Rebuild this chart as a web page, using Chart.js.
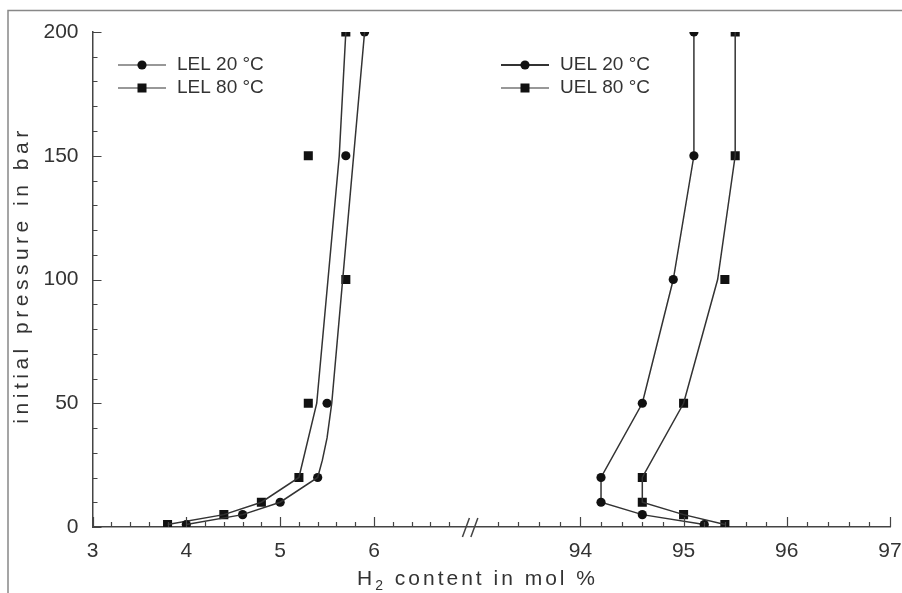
<!DOCTYPE html>
<html>
<head>
<meta charset="utf-8">
<title>Explosion limits of hydrogen</title>
<script src="https://cdn.jsdelivr.net/npm/chart.js@4.4.1/dist/chart.umd.min.js"></script>
<style>
  html, body { margin: 0; padding: 0; background: #fff; }
  #wrap { width: 902px; height: 593px; }
</style>
</head>
<body>
<div id="wrap"><canvas id="limitsChart" width="902" height="593"></canvas></div>
<script>
// measured explosion limits: H2 content (mol %) at each initial pressure (bar)
const lel20Pressure = [1, 5, 10, 20, 50, 150, 200];
const lel20H2 = [4.0, 4.6, 5.0, 5.4, 5.5, 5.7, 5.9];
const lel80Pressure = [1, 5, 10, 20, 50, 100, 150, 200];
const lel80H2 = [3.8, 4.4, 4.8, 5.2, 5.3, 5.7, 5.3, 5.7];
const uel20Pressure = [1, 5, 10, 20, 50, 100, 150, 200];
const uel20H2 = [95.2, 94.6, 94.2, 94.2, 94.6, 94.9, 95.1, 95.1];
const uel80Pressure = [1, 5, 10, 20, 50, 100, 150, 200];
const uel80H2 = [95.4, 95.0, 94.6, 94.6, 95.0, 95.4, 95.5, 95.5];

// trend curves (not through every measured point)
const lel20CurvePressure = [1, 5, 10, 20, 27, 36, 50, 200];
const lel20CurveH2 = [4.0, 4.6, 5.0, 5.4, 5.45, 5.5, 5.55, 5.9];
const lel80CurvePressure = [1, 5, 10, 20, 50, 150, 200];
const lel80CurveH2 = [3.8, 4.4, 4.8, 5.2, 5.39, 5.63, 5.7];
const uel80CurvePressure = [1, 5, 10, 20, 50, 100, 150, 200];
const uel80CurveH2 = [95.4, 95.0, 94.6, 94.6, 95.0, 95.33, 95.5, 95.5];

const xTickLabels = [3, 4, 5, 6, 94, 95, 96, 97];
const yTickLabels = [0, 50, 100, 150, 200];

const lineColor = '#333';
const markColor = '#111';
const axisColor = '#444';
const textColor = '#333';
const fontFamily = '"Liberation Sans", Arial, sans-serif';

// the x axis is broken between 6 and 94 mol %, upper part slightly wider
function toAxis(v) {
  return v < 50 ? v - 3 : 5.2 + (v - 94) * 1.1;
}

const xMinor = [];
for (let i = 1; i <= 19; i++) if (i % 5) xMinor.push(3 + i * 0.2);
for (let i = -4; i <= 14; i++) if (i % 5) xMinor.push(94 + i * 0.2);
const yMinor = [];
for (let p = 10; p < 200; p += 10) if (p % 50) yMinor.push(p);

const pts = (h2, p) => h2.map((v, i) => ({ x: toAxis(v), y: p[i] }));

function curve(label, h2, p) {
  return {
    label, data: pts(h2, p), showLine: true, pointRadius: 0,
    borderColor: lineColor, borderWidth: 1.5, fill: false
  };
}
function marks(label, h2, p, style, r) {
  return {
    label, data: pts(h2, p), showLine: false, pointStyle: style,
    pointRadius: r, pointBackgroundColor: markColor, pointBorderColor: markColor,
    pointBorderWidth: 0
  };
}

// inward tick marks, axis break and frame
const axisDecor = {
  id: 'axisDecor',
  beforeDraw(chart) {
    const { ctx } = chart;
    ctx.save();
    ctx.strokeStyle = '#888';
    ctx.lineWidth = 1.5;
    ctx.beginPath();
    ctx.moveTo(8, 593); ctx.lineTo(8, 10.5); ctx.lineTo(902, 10.5);
    ctx.stroke();
    ctx.restore();
  },
  afterDraw(chart) {
    const { ctx, scales: { x, y } } = chart;
    const base = y.getPixelForValue(0);
    const left = x.getPixelForValue(0);
    ctx.save();
    ctx.strokeStyle = axisColor;
    ctx.lineWidth = 1.2;
    ctx.beginPath();
    xTickLabels.forEach(v => {
      const px = Math.round(x.getPixelForValue(toAxis(v))) + 0.5;
      ctx.moveTo(px, base); ctx.lineTo(px, base - 10);
    });
    xMinor.forEach(v => {
      const px = Math.round(x.getPixelForValue(toAxis(v))) + 0.5;
      ctx.moveTo(px, base); ctx.lineTo(px, base - 5);
    });
    yTickLabels.forEach(v => {
      const py = Math.round(y.getPixelForValue(v)) + 0.5;
      ctx.moveTo(left, py); ctx.lineTo(left + 9, py);
    });
    yMinor.forEach(v => {
      const py = Math.round(y.getPixelForValue(v)) + 0.5;
      ctx.moveTo(left, py); ctx.lineTo(left + 5, py);
    });
    ctx.stroke();

    // break marks "//"
    ctx.lineWidth = 1.5;
    ctx.beginPath();
    [3.98, 4.07].forEach(u => {
      const px = x.getPixelForValue(u);
      ctx.moveTo(px - 3.5, base + 10); ctx.lineTo(px + 3.5, base - 9);
    });
    ctx.stroke();
    ctx.restore();
  }
};

// two legend blocks: lower limits on the left, upper limits on the right
const legendBlocks = {
  id: 'legendBlocks',
  afterDraw(chart) {
    const { ctx } = chart;
    const entries = [
      { text: 'LEL 20 °C', shape: 'circle', x: 118, y: 65, w: 1.2 },
      { text: 'LEL 80 °C', shape: 'square', x: 118, y: 88, w: 1.2 },
      { text: 'UEL 20 °C', shape: 'circle', x: 501, y: 65, w: 2.2 },
      { text: 'UEL 80 °C', shape: 'square', x: 501, y: 88, w: 1.2 }
    ];
    ctx.save();
    entries.forEach(e => {
      ctx.strokeStyle = lineColor;
      ctx.lineWidth = e.w;
      ctx.beginPath();
      ctx.moveTo(e.x, e.y); ctx.lineTo(e.x + 48, e.y);
      ctx.stroke();
      ctx.fillStyle = markColor;
      const cx = e.x + 24;
      if (e.shape === 'circle') {
        ctx.beginPath(); ctx.arc(cx, e.y, 4.6, 0, Math.PI * 2); ctx.fill();
      } else {
        ctx.fillRect(cx - 4.5, e.y - 4.5, 9, 9);
      }
      ctx.fillStyle = textColor;
      ctx.font = '19px ' + fontFamily;
      ctx.textAlign = 'left';
      ctx.textBaseline = 'middle';
      ctx.fillText(e.text, e.x + 59, e.y);
    });
    ctx.restore();
  }
};

// axis titles (subscript in H2)
const axisTitles = {
  id: 'axisTitles',
  afterDraw(chart) {
    const { ctx } = chart;
    ctx.save();
    ctx.fillStyle = textColor;
    ctx.textBaseline = 'alphabetic';
    ctx.textAlign = 'left';
    ctx.letterSpacing = '3px';
    ctx.font = '21px ' + fontFamily;
    let xPos = 357;
    const baseY = 585;
    ctx.fillText('H', xPos, baseY);
    xPos += ctx.measureText('H').width;
    ctx.font = '14px ' + fontFamily;
    ctx.fillText('2', xPos, baseY + 5);
    xPos += ctx.measureText('2').width;
    ctx.font = '21px ' + fontFamily;
    ctx.fillText(' content in mol %', xPos, baseY);

    ctx.translate(22, 275);
    ctx.rotate(-Math.PI / 2);
    ctx.textAlign = 'center';
    ctx.textBaseline = 'middle';
    ctx.letterSpacing = '4.5px';
    ctx.fillText('initial pressure in bar', 0, 0);
    ctx.restore();
  }
};

const ctx = document.getElementById('limitsChart').getContext('2d');

const limitsChart = new Chart(ctx, {
  type: 'scatter',
  data: {
    datasets: [
      curve('LEL 20 °C curve', lel20CurveH2, lel20CurvePressure),
      marks('LEL 20 °C', lel20H2, lel20Pressure, 'circle', 4.6),
      curve('LEL 80 °C curve', lel80CurveH2, lel80CurvePressure),
      marks('LEL 80 °C', lel80H2, lel80Pressure, 'rect', 6.4),
      {
        label: 'UEL 20 °C', data: pts(uel20H2, uel20Pressure), showLine: true,
        borderColor: lineColor, borderWidth: 1.5, pointStyle: 'circle', pointRadius: 4.6,
        pointBackgroundColor: markColor, pointBorderColor: markColor, pointBorderWidth: 0
      },
      curve('UEL 80 °C curve', uel80CurveH2, uel80CurvePressure),
      marks('UEL 80 °C', uel80H2, uel80Pressure, 'rect', 6.4)
    ]
  },
  options: {
    responsive: false,
    animation: false,
    layout: { padding: { left: 0, top: 32, right: 12, bottom: 0 } },
    plugins: {
      legend: { display: false },
      tooltip: { enabled: false }
    },
    scales: {
      x: {
        type: 'linear', min: 0, max: 8.5,
        afterBuildTicks: s => { s.ticks = xTickLabels.map(v => ({ value: toAxis(v) })); },
        afterFit: s => { s.height = 66; s.paddingRight = 0; s.paddingLeft = 0; },
        grid: { display: false },
        border: { color: axisColor, width: 1.5 },
        ticks: {
          callback: (val, i) => xTickLabels[i],
          autoSkip: false, maxRotation: 0, padding: 4,
          color: textColor, font: { family: fontFamily, size: 21 }
        }
      },
      y: {
        min: 0, max: 200,
        afterBuildTicks: s => { s.ticks = yTickLabels.map(v => ({ value: v })); },
        afterFit: s => { s.width = 92.5; },
        grid: { display: false },
        border: { color: axisColor, width: 1.5 },
        ticks: {
          padding: 6,
          color: textColor, font: { family: fontFamily, size: 21 }
        }
      }
    }
  },
  plugins: [axisDecor, legendBlocks, axisTitles]
});
</script>
</body>
</html>
